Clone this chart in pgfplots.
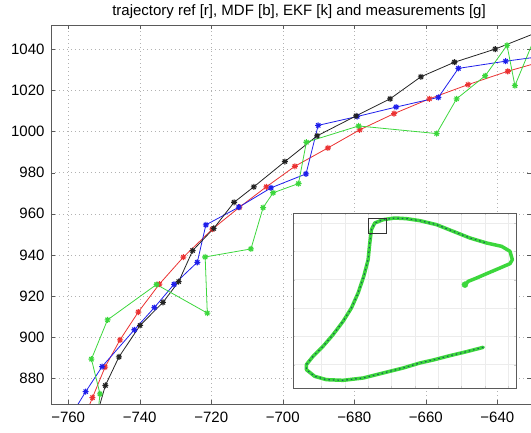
\documentclass[border=0pt]{standalone}
\usepackage{fontspec}
\setmainfont{Liberation Sans}
\usepackage{pgfplots}
\pgfplotsset{compat=1.18}

\definecolor{mred}{RGB}{235,50,50}
\definecolor{mblue}{RGB}{30,30,235}
\definecolor{mblack}{RGB}{35,35,35}
\definecolor{mgreen}{RGB}{60,215,60}
\definecolor{axgray}{RGB}{90,90,90}

% MATLAB style '*' marker: plus and cross on top of each other
\pgfdeclareplotmark{mstar}{%
  \pgfpathmoveto{\pgfqpoint{-\pgfplotmarksize}{0pt}}%
  \pgfpathlineto{\pgfqpoint{\pgfplotmarksize}{0pt}}%
  \pgfpathmoveto{\pgfqpoint{0pt}{-\pgfplotmarksize}}%
  \pgfpathlineto{\pgfqpoint{0pt}{\pgfplotmarksize}}%
  \pgfpathmoveto{\pgfqpoint{-.707\pgfplotmarksize}{-.707\pgfplotmarksize}}%
  \pgfpathlineto{\pgfqpoint{.707\pgfplotmarksize}{.707\pgfplotmarksize}}%
  \pgfpathmoveto{\pgfqpoint{-.707\pgfplotmarksize}{.707\pgfplotmarksize}}%
  \pgfpathlineto{\pgfqpoint{.707\pgfplotmarksize}{-.707\pgfplotmarksize}}%
  \pgfusepathqstroke}

\pgfplotsset{
  traj/.style={line width=0.8pt, mark=mstar, mark size=3pt,
    mark options={line width=1.1pt}},
}

\begin{document}
\begin{tikzpicture}
\begin{axis}[
    name=main,
    width=480pt, height=379pt, scale only axis,
    xmin=-764.8, xmax=-630.6,
    ymin=867.5, ymax=1051.8,
    xtick={-760,-740,-720,-700,-680,-660,-640},
    xticklabels={−760,−740,−720,−700,−680,−660,−640},
    ytick={880,900,920,940,960,980,1000,1020,1040},
    yticklabels={880,900,920,940,960,980,1000,1020,1040},
    grid=major,
    major grid style={gray!60, dash pattern=on 1pt off 3pt},
    axis line style={axgray},
    tick style={axgray},
    tick label style={font=\fontsize{15}{15}\selectfont},
    yticklabel style={xshift=-3pt},
    xticklabel style={yshift=-4pt},
    title={trajectory ref [r], MDF [b], EKF [k] and measurements [g]},
    title style={font=\fontsize{15}{15}\selectfont, xshift=8pt, yshift=-3pt},
]
% reference trajectory (red)
\addplot[traj, mred] coordinates {
  (-756.7,855.8) (-753.2,870.6) (-749.7,885.4) (-745.5,898.7) (-740.4,912.2)
  (-734.5,925.8) (-727.8,938.9) (-719.7,952.5) (-712.1,963.2) (-704.6,973.1)
  (-696.6,983.1) (-687.4,992.0) (-678.5,1000.8) (-668.9,1008.7) (-659.0,1015.9)
  (-648.2,1022.8) (-637.1,1029.3) (-626.0,1034.8)
};
% MDF (blue)
\addplot[traj, mblue] coordinates {
  (-759.5,861.0) (-755.1,873.5) (-750.5,885.7) (-741.5,903.6) (-735.9,914.4)
  (-730.4,925.7) (-723.9,936.4) (-721.5,954.6) (-712.3,963.2) (-703.3,972.6)
  (-693.5,979.4) (-690.1,1003.0) (-679.2,1007.3) (-668.3,1011.9) (-656.5,1016.6)
  (-650.9,1030.7) (-637.7,1034.2) (-626.0,1036.9)
};
% EKF (black)
\addplot[traj, mblack] coordinates {
  (-752.0,862.0) (-749.6,876.5) (-745.8,890.4) (-739.9,905.7) (-733.5,916.9)
  (-729.1,927.0) (-725.2,942.1) (-719.3,952.9) (-713.6,965.6) (-708.1,973.1)
  (-699.4,985.4) (-690.4,997.9) (-679.5,1007.6) (-670.0,1015.9) (-661.4,1026.6)
  (-652.0,1033.7) (-640.6,1040.1) (-628.0,1048.8)
};
% measurements (green)
\addplot[traj, mgreen] coordinates {
  (-752.0,858.0) (-751.1,872.4) (-753.5,889.3) (-749.0,908.4) (-735.3,925.6)
  (-721.1,911.7) (-721.7,939.0) (-708.9,942.9) (-705.5,963.0) (-702.7,970.2)
  (-695.6,974.7) (-693.4,994.8) (-678.8,1002.7) (-657.0,999.0) (-651.4,1015.9)
  (-643.4,1027.1) (-637.3,1041.9) (-635.1,1022.3) (-628.5,1050.0)
};
\end{axis}

% overview inset
\begin{axis}[
    at={(242pt,16pt)}, anchor=south west,
    width=223pt, height=175pt, scale only axis,
    xmin=40, xmax=708, ymin=40, ymax=565, y dir=reverse,
    xtick={125,195,265,335,405,475,545,615,685},
    ytick={70,155,240,325,410,495},
    xticklabels={}, yticklabels={},
    grid=major,
    major grid style={gray!15},
    axis background/.style={fill=white},
    axis line style={axgray, line width=0.8pt},
    tick style={gray!40},
    major tick length=2pt,
]
\addplot[mgreen, line width=3.5pt, line join=round, line cap=round] coordinates {
  (610,443) (560,456) (510,468) (460,481) (420,490) (370,505) (310,520)
  (250,535) (190,542) (140,540) (105,530) (80,510) (80,495) (100,470)
  (130,440) (160,405) (190,365) (215,325) (235,280) (252,230) (265,180)
  (270,130) (275,90) (285,70) (310,60) (345,55) (380,57) (420,63) (470,75)
  (520,95) (570,115) (620,130) (665,140) (690,155) (697,180) (690,192)
  (660,205) (620,222) (590,235) (565,245) (555,255)
};
\addplot[blue!45!black, line width=1.2pt, dash pattern=on 1.5pt off 3pt, opacity=0.55] coordinates {
  (610,443) (560,456) (510,468) (460,481) (420,490) (370,505) (310,520)
  (250,535) (190,542) (140,540) (105,530) (80,510) (80,495) (100,470)
  (130,440) (160,405) (190,365) (215,325) (235,280) (252,230) (265,180)
  (270,130) (275,90) (285,70) (310,60) (345,55) (380,57) (420,63) (470,75)
  (520,95) (570,115) (620,130)
};
\addplot[mgreen, only marks, mark=*, mark size=3pt] coordinates {(555,255)};
\addplot[black!80, line width=0.8pt] coordinates {
  (265,55) (320,55) (320,100) (265,100) (265,55)
};
\end{axis}

\pgfresetboundingbox
\path ([shift={(-51pt,-29pt)}]main.south west) rectangle ([shift={(0pt,25pt)}]main.north east);
\end{tikzpicture}
\end{document}
